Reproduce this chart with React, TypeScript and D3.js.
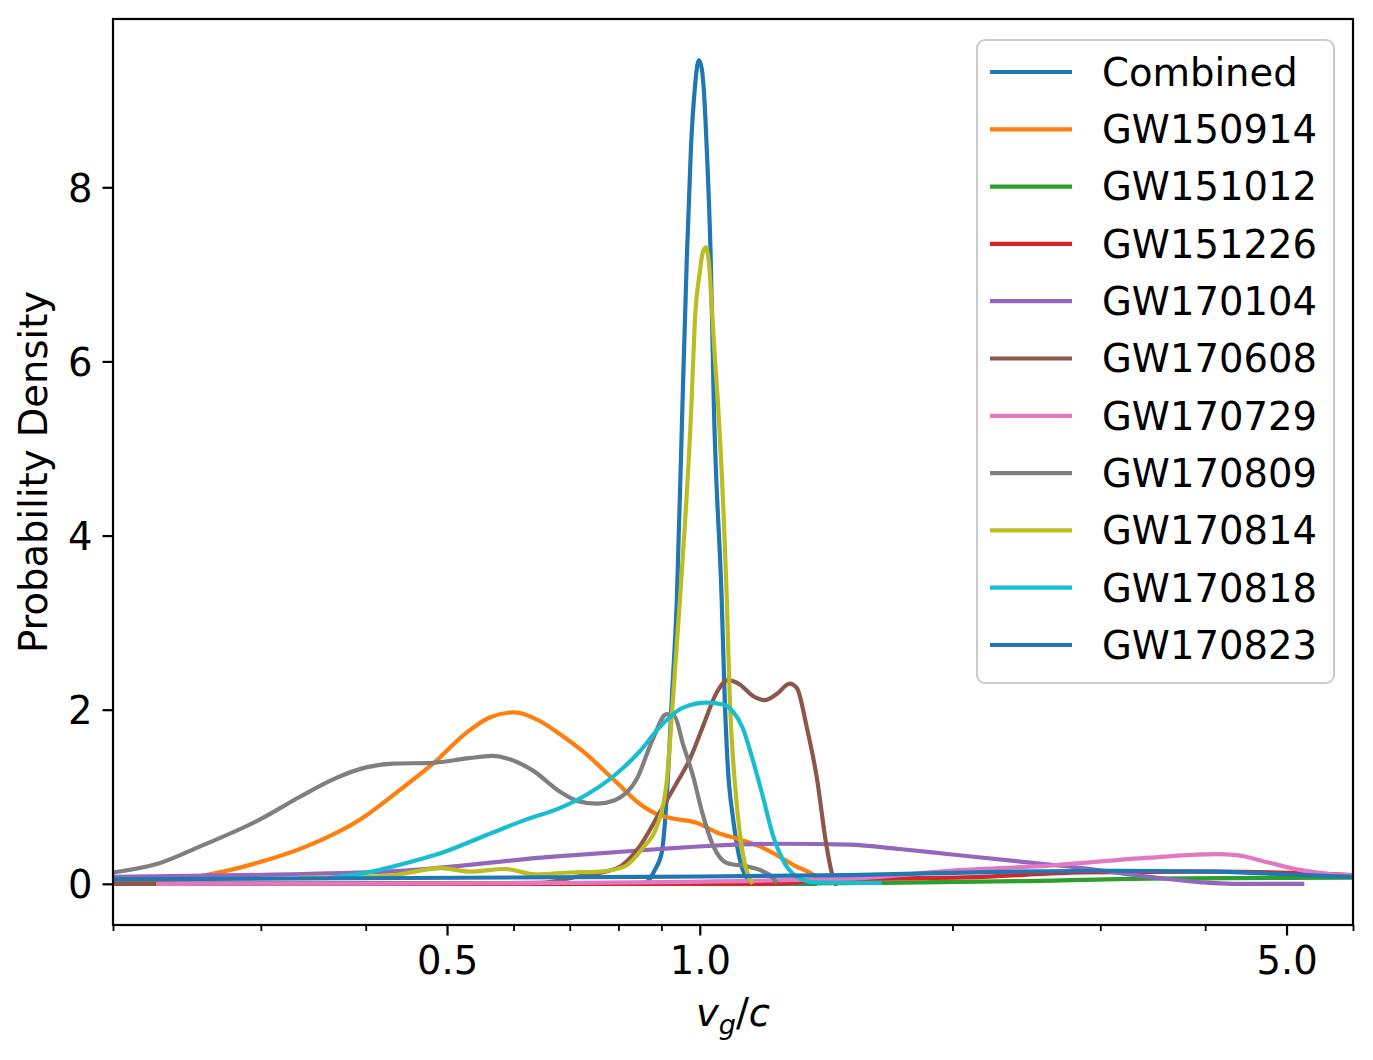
import { useEffect, useRef } from 'react'
import * as d3 from 'd3'

type Pt = [number, number]

// [v_g/c, probability density]
const combined: Pt[] = [
  [0.2, 0], [0.681, 0], [0.848, 0], [0.867, 0.03], [0.884, 0.16], [0.901, 0.36], [0.913, 0.97],
  [0.926, 2.11], [0.939, 3.26], [0.954, 5.56], [0.965, 7.17], [0.976, 8.44], [0.9864, 9.13],
  [0.9973, 9.46], [1.0055, 9.36], [1.011, 9.13], [1.0194, 8.44], [1.0306, 7.17], [1.039, 5.56],
  [1.062, 3.26], [1.071, 2.11], [1.08, 1.34], [1.095, 0.77], [1.11, 0.39], [1.125, 0.16],
  [1.141, 0.05], [1.163, 0], [1.371, 0],
]
const gw150914: Pt[] = [
  [0.2, 0.01], [0.254, 0.09], [0.2994, 0.25], [0.34, 0.43], [0.397, 0.76], [0.4394, 1.08],
  [0.481, 1.38], [0.528, 1.74], [0.562, 1.91], [0.602, 1.97], [0.645, 1.87], [0.681, 1.72],
  [0.726, 1.52], [0.797, 1.16], [0.848, 0.92], [0.889, 0.8], [0.929, 0.75], [0.992, 0.7],
  [1.048, 0.59], [1.116, 0.51], [1.179, 0.43], [1.235, 0.33], [1.297, 0.21], [1.363, 0.11],
  [1.393, 0.05],
]
const gw151012: Pt[] = [
  [0.2, 0], [1.0, 0], [1.651, 0.01], [2.384, 0.03], [3.434, 0.06], [6.0, 0.07],
]
const gw151226: Pt[] = [
  [0.2, 0], [1.18, 0], [1.509, 0.05], [2.172, 0.08], [2.857, 0.13], [4.126, 0.14], [6.0, 0.1],
]
const gw170104: Pt[] = [
  [0.2, 0.08], [0.4226, 0.14], [0.663, 0.31], [0.896, 0.4], [1.048, 0.44], [1.255, 0.46],
  [1.509, 0.45], [1.73, 0.4], [1.984, 0.34], [2.384, 0.26], [2.857, 0.18], [3.434, 0.08],
  [3.94, 0.02], [4.31, 0], [5.22, 0],
]
const gw170608: Pt[] = [
  [0.2, 0], [0.645, 0.01], [0.72, 0.09], [0.797, 0.18], [0.848, 0.43], [0.896, 0.82],
  [0.939, 1.16], [0.973, 1.43], [1.008, 1.8], [1.048, 2.2], [1.08, 2.34], [1.116, 2.29],
  [1.156, 2.16], [1.195, 2.11], [1.235, 2.18], [1.28, 2.3], [1.305, 2.25], [1.341, 1.8],
  [1.378, 1.23], [1.416, 0.43], [1.436, 0.13], [1.452, 0],
]
const gw170729: Pt[] = [
  [0.2264, 0], [0.663, 0.01], [1.509, 0.06], [1.984, 0.15], [2.61, 0.21], [3.434, 0.3],
  [4.126, 0.34], [4.36, 0.33], [4.732, 0.25], [5.18, 0.16], [5.67, 0.11], [6.0, 0.1],
]
const gw170809: Pt[] = [
  [0.2, 0.13], [0.226, 0.23], [0.254, 0.43], [0.2994, 0.74], [0.334, 1.0], [0.3658, 1.2],
  [0.4015, 1.34], [0.431, 1.38], [0.481, 1.39], [0.528, 1.44], [0.5655, 1.47], [0.594, 1.43],
  [0.633, 1.3], [0.681, 1.06], [0.716, 0.95], [0.754, 0.92], [0.792, 0.96], [0.841, 1.2],
  [0.879, 1.66], [0.913, 1.95], [0.934, 1.92], [0.954, 1.62], [0.981, 1.25], [1.008, 0.8],
  [1.036, 0.45], [1.077, 0.24], [1.137, 0.2], [1.179, 0.16], [1.222, 0.07], [1.232, 0.03],
]
const gw170814: Pt[] = [
  [0.334, 0.07], [0.4226, 0.09], [0.492, 0.18], [0.532, 0.14], [0.586, 0.17], [0.636, 0.11],
  [0.7, 0.13], [0.76, 0.14], [0.814, 0.2], [0.855, 0.41], [0.889, 0.66], [0.913, 1.16],
  [0.929, 2.11], [0.947, 3.26], [0.978, 5.56], [0.9864, 6.45], [1.0, 7.02], [1.008, 7.25],
  [1.0166, 7.31], [1.025, 7.15], [1.0335, 6.63], [1.042, 6.06], [1.0506, 5.56], [1.077, 3.26],
  [1.086, 2.11], [1.101, 1.16], [1.116, 0.59], [1.131, 0.24], [1.153, 0.02],
]
const gw170818: Pt[] = [
  [0.3627, 0.07], [0.4015, 0.13], [0.4394, 0.22], [0.494, 0.36], [0.567, 0.59], [0.622, 0.74],
  [0.681, 0.87], [0.726, 1.0], [0.797, 1.27], [0.848, 1.52], [0.896, 1.8], [0.954, 2.02],
  [1.0194, 2.08], [1.065, 2.06], [1.095, 1.98], [1.125, 1.79], [1.156, 1.43], [1.189, 1.0],
  [1.222, 0.56], [1.255, 0.28], [1.305, 0.08], [1.363, 0.02], [1.638, 0.01],
]
const gw170823: Pt[] = [
  [0.2, 0.05], [0.855, 0.08], [1.509, 0.1], [2.384, 0.14], [3.136, 0.15], [4.126, 0.14],
  [4.94, 0.11], [6.0, 0.08],
]

const names = ['Combined', 'GW150914', 'GW151012', 'GW151226', 'GW170104', 'GW170608',
  'GW170729', 'GW170809', 'GW170814', 'GW170818', 'GW170823']
const curves = [combined, gw150914, gw151012, gw151226, gw170104, gw170608,
  gw170729, gw170809, gw170814, gw170818, gw170823]
const colors = ['#1f77b4', '#ff7f0e', '#2ca02c', '#d62728', '#9467bd', '#8c564b',
  '#e377c2', '#7f7f7f', '#bcbd22', '#17becf', '#1f77b4']

const xMajor = [0.5, 1.0, 5.0]
const xMinor = [0.2, 0.3, 0.4, 0.6, 0.7, 0.8, 0.9, 2, 3, 4, 6]
const yTicks = [0, 2, 4, 6, 8]

const FONT = 'DejaVu Sans'

export default function App() {
  const ref = useRef<SVGSVGElement>(null)

  useEffect(() => {
    const svg = d3.select(ref.current!)
    svg.selectAll('*').remove()
    const L = 113, R = 1353, T = 19, B = 925, fs = 38.5
    const x = d3.scaleLog().domain([0.2, 6]).range([L, R])
    const y = d3.scaleLinear().domain([-0.473, 9.933]).range([B, T])

    svg.append('rect').attr('width', 1373).attr('height', 1060).attr('fill', '#fff')
    svg.append('clipPath').attr('id', 'plot').append('rect')
      .attr('x', L).attr('y', T).attr('width', R - L).attr('height', B - T)

    const line = d3.line<Pt>().x(d => x(d[0])).y(d => y(d[1])).curve(d3.curveMonotoneX)
    const g = svg.append('g').attr('clip-path', 'url(#plot)')
    curves.forEach((c, i) => {
      g.append('path').attr('d', line(c)!).attr('fill', 'none')
        .attr('stroke', colors[i]).attr('stroke-width', 4.2)
        .attr('stroke-linejoin', 'round').attr('stroke-linecap', 'square')
    })

    // x axis
    const xa = svg.append('g').attr('transform', `translate(0,${B})`)
      .call(d3.axisBottom(x).tickValues(xMajor).tickFormat(d3.format('.1f')).tickSize(10.5).tickPadding(10))
    const xm = svg.append('g').attr('transform', `translate(0,${B})`)
      .call(d3.axisBottom(x).tickValues(xMinor).tickFormat(() => '').tickSize(6))
    xm.selectAll('line').attr('stroke-width', 1.8)
    // y axis
    const ya = svg.append('g').attr('transform', `translate(${L},0)`)
      .call(d3.axisLeft(y).tickValues(yTicks).tickFormat(d3.format('d')).tickSize(10.5).tickPadding(10))
    ;[xa, xm, ya].forEach(a => {
      a.select('.domain').remove()
      a.selectAll('line').attr('stroke', '#000')
      a.selectAll('text').attr('fill', '#000').attr('font-family', FONT).attr('font-size', fs)
    })
    xa.selectAll('line').attr('stroke-width', 2.2)
    ya.selectAll('line').attr('stroke-width', 2.2)
    xa.selectAll('text').attr('dy', '0.74em')
    ya.selectAll('text').attr('dy', '0.36em')

    svg.append('rect').attr('x', L).attr('y', T).attr('width', R - L).attr('height', B - T)
      .attr('fill', 'none').attr('stroke', '#000').attr('stroke-width', 2.2)

    // axis labels
    const xl = svg.append('text').attr('x', (L + R) / 2).attr('y', 1026)
      .attr('text-anchor', 'middle').attr('font-family', FONT).attr('font-size', fs)
    xl.append('tspan').attr('font-style', 'italic').text('v')
    xl.append('tspan').attr('font-style', 'italic').attr('font-size', fs * 0.7).attr('dy', 8).text('g')
    xl.append('tspan').attr('dy', -8).text('/')
    xl.append('tspan').attr('font-style', 'italic').text('c')

    svg.append('text').attr('transform', `translate(47,${(T + B) / 2}) rotate(-90)`)
      .attr('text-anchor', 'middle').attr('font-family', FONT).attr('font-size', fs)
      .text('Probability Density')

    // legend
    const lg = svg.append('g')
    lg.append('rect').attr('x', 977).attr('y', 40).attr('width', 357).attr('height', 643)
      .attr('rx', 8).attr('fill', '#fff').attr('fill-opacity', 0.8)
      .attr('stroke', '#cccccc').attr('stroke-width', 2)
    const ry = d3.scalePoint<string>().domain(names).range([72, 645])
    names.forEach((n, i) => {
      const yy = ry(n)!
      lg.append('line').attr('x1', 990).attr('x2', 1072).attr('y1', yy).attr('y2', yy)
        .attr('stroke', colors[i]).attr('stroke-width', 4.2)
      lg.append('text').attr('x', 1102).attr('y', yy).attr('dy', '0.36em')
        .attr('font-family', FONT).attr('font-size', fs).text(n)
    })
  }, [])

  return <svg ref={ref} width={1373} height={1060} style={{ position: 'absolute', left: 0, top: 0 }} />
}
